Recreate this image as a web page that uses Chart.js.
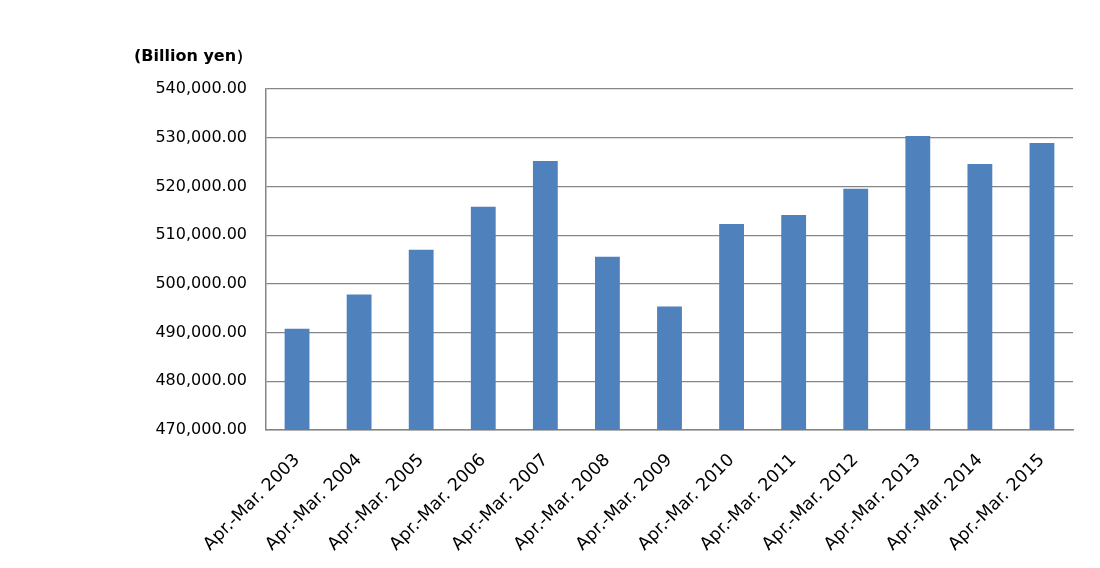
<!DOCTYPE html>
<html>
<head>
<meta charset="utf-8">
<script src="https://cdn.jsdelivr.net/npm/chart.js@4/dist/chart.umd.min.js"></script>
<style>
  html, body { margin: 0; padding: 0; background: #ffffff; }
  #wrap { width: 1100px; height: 568px; position: relative; }
</style>
</head>
<body>
<div id="wrap"><canvas id="c"></canvas></div>
<script>
const unitLabel = "(Billion yen\uFF09";
const categories = [
  "Apr.-Mar. 2003", "Apr.-Mar. 2004", "Apr.-Mar. 2005", "Apr.-Mar. 2006",
  "Apr.-Mar. 2007", "Apr.-Mar. 2008", "Apr.-Mar. 2009", "Apr.-Mar. 2010",
  "Apr.-Mar. 2011", "Apr.-Mar. 2012", "Apr.-Mar. 2013", "Apr.-Mar. 2014",
  "Apr.-Mar. 2015"
];
const values = [
  490760, 497810, 506990, 515850, 525240, 505560, 495360,
  512310, 514150, 519530, 530350, 524620, 528920
];
const yMin = 470000;
const yMax = 540000;
const yStep = 10000;

const unitPlugin = {
  id: 'unitLabel',
  afterDraw(chart) {
    const ctx = chart.ctx;
    ctx.save();
    ctx.font = 'bold 16px "DejaVu Sans"';
    ctx.fillStyle = '#000000';
    ctx.textAlign = 'left';
    ctx.textBaseline = 'alphabetic';
    ctx.fillText(unitLabel, 134, 61);
    ctx.restore();
  }
};

new Chart(document.getElementById('c'), {
  type: 'bar',
  data: {
    labels: categories,
    datasets: [{
      data: values,
      backgroundColor: '#4F81BD',
      borderWidth: 0,
      categoryPercentage: 1.0,
      barPercentage: 0.4
    }]
  },
  options: {
    responsive: true,
    maintainAspectRatio: false,
    animation: false,
    layout: { padding: { top: 89, right: 27, bottom: 0, left: 0 } },
    plugins: {
      legend: { display: false },
      tooltip: { enabled: false }
    },
    scales: {
      x: {
        offset: true,
        grid: { display: false, drawTicks: false },
        border: { display: true, color: '#868686', width: 1.5 },
        ticks: {
          minRotation: 45,
          maxRotation: 45,
          autoSkip: false,
          padding: 20,
          color: '#000000',
          font: { family: '"DejaVu Sans"', size: 17.5 }
        },
        afterFit(scale) { scale.height = 138; }
      },
      y: {
        min: yMin,
        max: yMax,
        grid: { color: '#868686', lineWidth: 1.2, drawTicks: false },
        border: { display: true, color: '#868686', width: 1.5 },
        ticks: {
          stepSize: yStep,
          padding: 19,
          color: '#000000',
          font: { family: '"DejaVu Sans"', size: 16 },
          callback: (v) => v.toLocaleString('en-US', { minimumFractionDigits: 2, maximumFractionDigits: 2 })
        },
        afterFit(scale) { scale.width = 266; }
      }
    }
  },
  plugins: [unitPlugin]
});
</script>
</body>
</html>
